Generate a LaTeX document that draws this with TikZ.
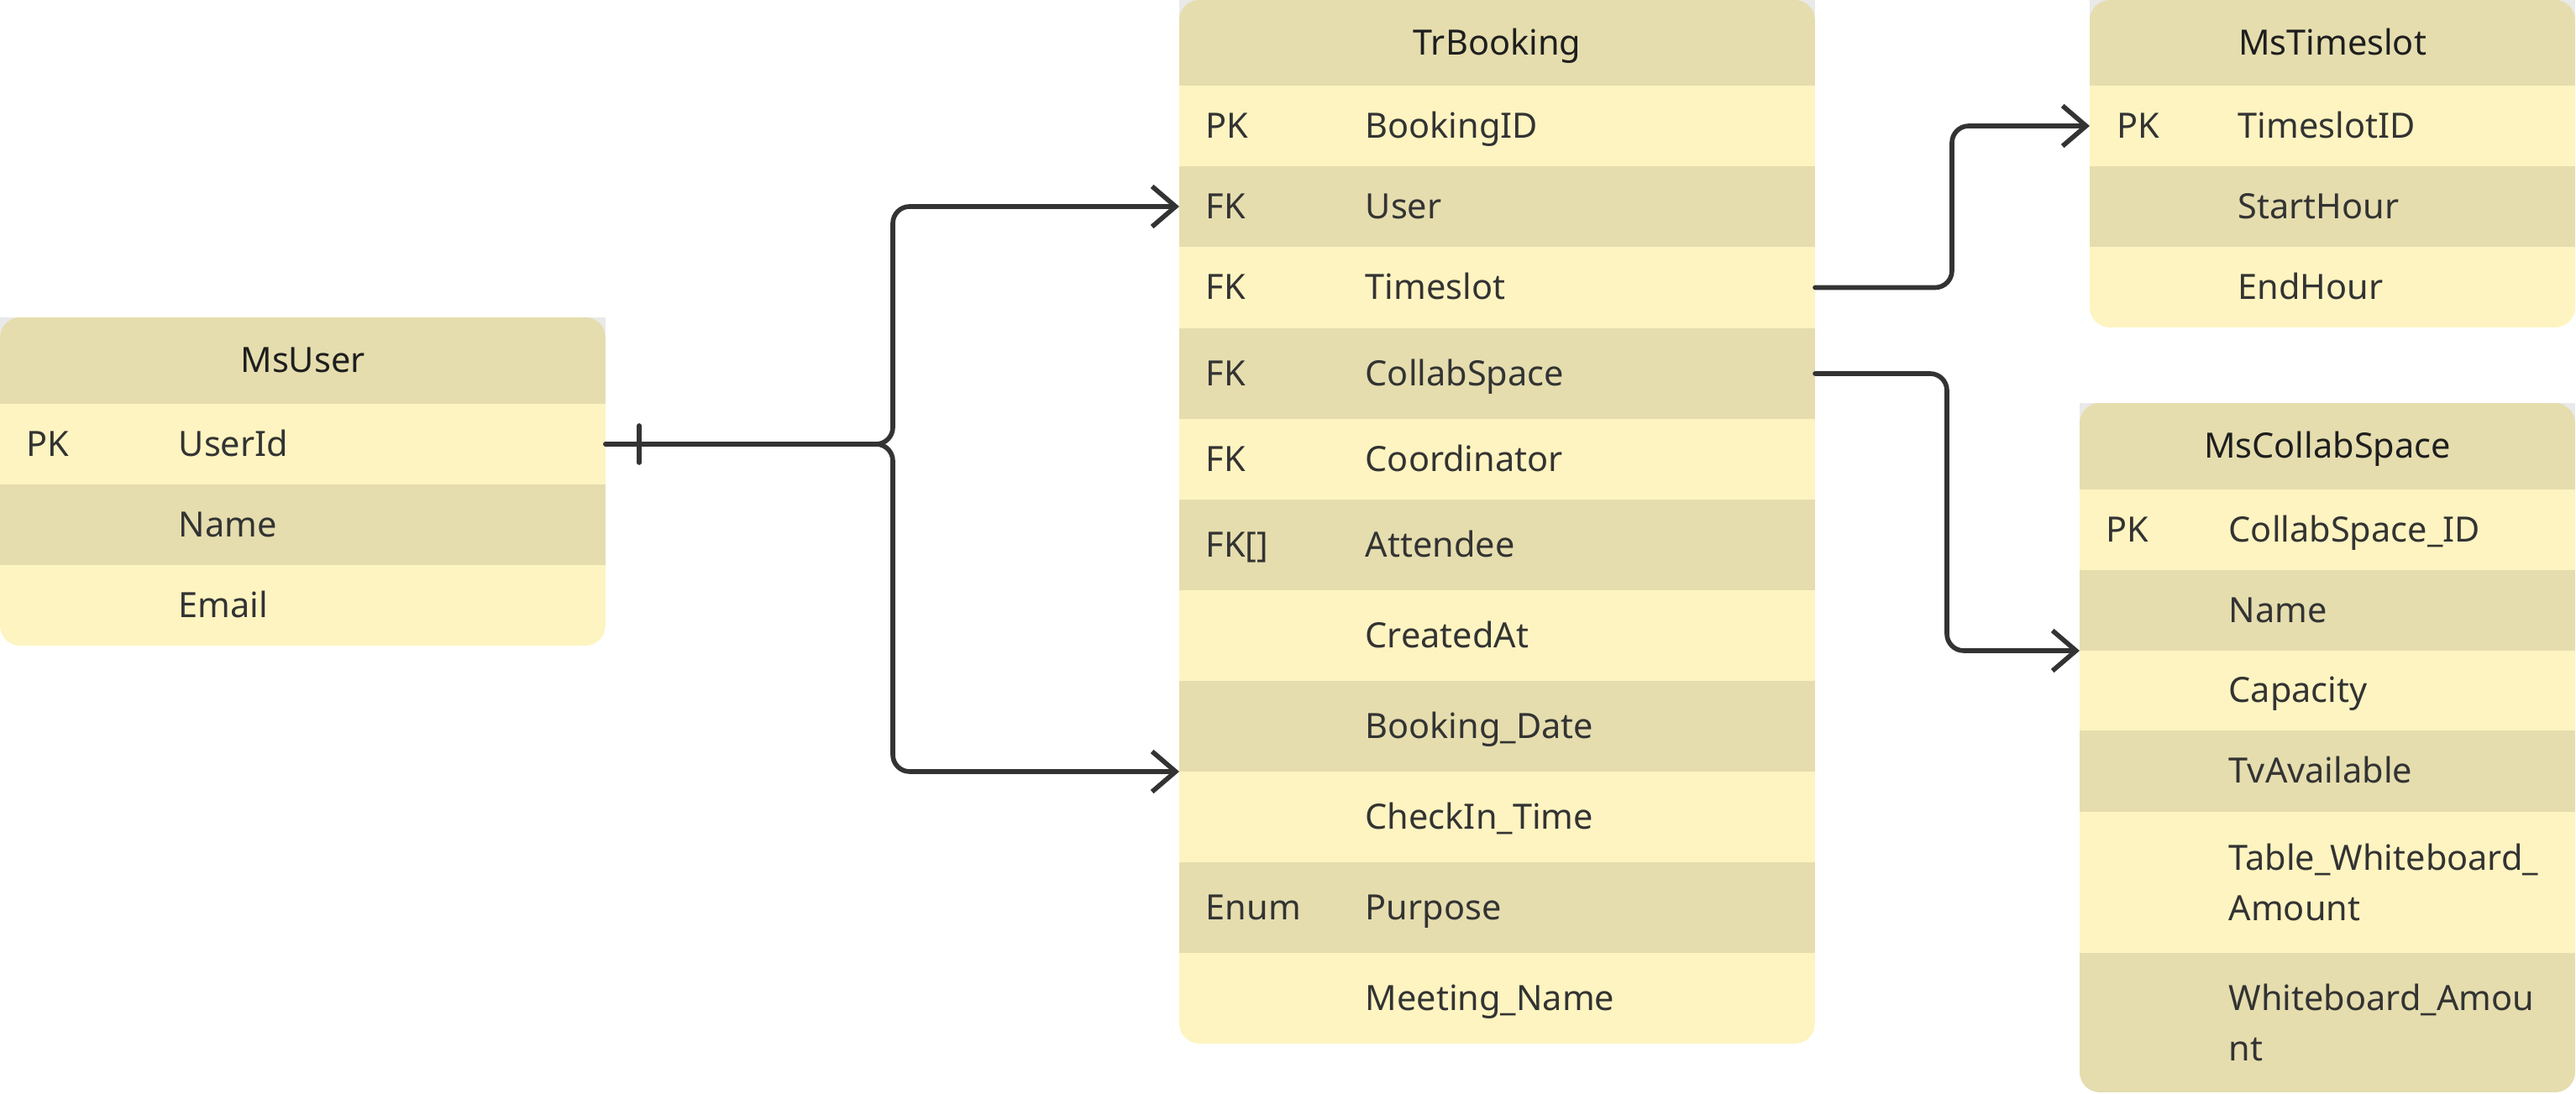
\documentclass[tikz,border=0pt]{standalone}
\usepackage{fontspec}
\setmainfont{Noto Sans}
\usetikzlibrary{arrows.meta,positioning}
\definecolor{ink}{HTML}{333333}
\definecolor{headink}{HTML}{1E1E1E}
\definecolor{straw}{HTML}{E5DDAE}
\definecolor{cream}{HTML}{FEF4C1}
\definecolor{haze}{HTML}{E9E9E9}

\begin{document}
\begin{tikzpicture}[font=\fontsize{11.8}{17}\selectfont,
  cellrow/.style={anchor=north west,inner sep=0,outer sep=0,minimum height=0.96cm},
  darkcell/.style={cellrow,fill=straw},
  lightcell/.style={cellrow,fill=cream},
  celltxt/.style={inner sep=0,text=ink,text height=0.29cm,text depth=0pt},
  headtxt/.style={inner sep=0,text=headink,text height=0.29cm,text depth=0pt},
  wraptxt/.style={inner sep=0,text=ink,align=left},
  rel/.style={draw=ink,line width=1.6pt,line cap=round,rounded corners=0.2cm},
  >={Straight Barb[length=0.28cm,width=0.48cm]}]
\useasboundingbox (0,0) rectangle (30.67,-13.03);

% MsUser
\fill[haze] (0,-3.78) rectangle (7.21,-4.81);
\begin{scope}[cellrow/.append style={minimum width=7.21cm}]
\clip[rounded corners=0.24cm] (0,-3.78) rectangle (7.21,-7.69);
\node[darkcell,minimum height=1.03cm] (u0) at (0,-3.78) {};
\node[lightcell,below=0pt of u0] (u1) {};
\node[darkcell,below=0pt of u1] (u2) {};
\node[lightcell,below=0pt of u2] (u3) {};
\end{scope}
\node[headtxt] (u0t) at (u0) {MsUser};
\node[celltxt,right=0.31cm of u1.west] (u1k) {PK};
\node[celltxt,right=2.12cm of u1.west] (u1n) {UserId};
\node[celltxt,right=2.12cm of u2.west] (u2n) {Name};
\node[celltxt,right=2.12cm of u3.west] (u3n) {Email};

% TrBooking
\fill[haze] (14.04,0) rectangle (21.61,-1.02);
\begin{scope}[cellrow/.append style={minimum width=7.57cm}]
\clip[rounded corners=0.24cm] (14.04,0) rectangle (21.61,-12.43);
\node[darkcell,minimum height=1.02cm] (b0) at (14.04,0) {};
\node[lightcell,below=0pt of b0] (b1) {};
\node[darkcell,below=0pt of b1] (b2) {};
\node[lightcell,minimum height=0.97cm,below=0pt of b2] (b3) {};
\node[darkcell,minimum height=1.08cm,below=0pt of b3] (b4) {};
\node[lightcell,below=0pt of b4] (b5) {};
\node[darkcell,minimum height=1.08cm,below=0pt of b5] (b6) {};
\node[lightcell,minimum height=1.08cm,below=0pt of b6] (b7) {};
\node[darkcell,minimum height=1.08cm,below=0pt of b7] (b8) {};
\node[lightcell,minimum height=1.08cm,below=0pt of b8] (b9) {};
\node[darkcell,minimum height=1.08cm,below=0pt of b9] (b10) {};
\node[lightcell,minimum height=1.08cm,below=0pt of b10] (b11) {};
\end{scope}
\node[headtxt] (b0t) at (b0) {TrBooking};
\node[celltxt,right=0.31cm of b1.west] (b1k) {PK};
\node[celltxt,right=2.21cm of b1.west] (b1n) {BookingID};
\node[celltxt,right=0.31cm of b2.west] (b2k) {FK};
\node[celltxt,right=2.21cm of b2.west] (b2n) {User};
\node[celltxt,right=0.31cm of b3.west] (b3k) {FK};
\node[celltxt,right=2.21cm of b3.west] (b3n) {Timeslot};
\node[celltxt,right=0.31cm of b4.west] (b4k) {FK};
\node[celltxt,right=2.21cm of b4.west] (b4n) {CollabSpace};
\node[celltxt,right=0.31cm of b5.west] (b5k) {FK};
\node[celltxt,right=2.21cm of b5.west] (b5n) {Coordinator};
\node[celltxt,right=0.31cm of b6.west] (b6k) {FK[]};
\node[celltxt,right=2.21cm of b6.west] (b6n) {Attendee};
\node[celltxt,right=2.21cm of b7.west] (b7n) {CreatedAt};
\node[celltxt,right=2.21cm of b8.west] (b8n) {Booking\_Date};
\node[celltxt,right=2.21cm of b9.west] (b9n) {CheckIn\_Time};
\node[celltxt,right=0.31cm of b10.west] (b10k) {Enum};
\node[celltxt,right=2.21cm of b10.west] (b10n) {Purpose};
\node[celltxt,right=2.21cm of b11.west] (b11n) {Meeting\_Name};

% MsTimeslot
\fill[haze] (24.88,0) rectangle (30.66,-1.02);
\begin{scope}[cellrow/.append style={minimum width=5.78cm}]
\clip[rounded corners=0.24cm] (24.88,0) rectangle (30.66,-3.90);
\node[darkcell,minimum height=1.02cm] (t0) at (24.88,0) {};
\node[lightcell,below=0pt of t0] (t1) {};
\node[darkcell,below=0pt of t1] (t2) {};
\node[lightcell,below=0pt of t2] (t3) {};
\end{scope}
\node[headtxt] (t0t) at (t0) {MsTimeslot};
\node[celltxt,right=0.32cm of t1.west] (t1k) {PK};
\node[celltxt,right=1.76cm of t1.west] (t1n) {TimeslotID};
\node[celltxt,right=1.76cm of t2.west] (t2n) {StartHour};
\node[celltxt,right=1.76cm of t3.west] (t3n) {EndHour};

% MsCollabSpace
\fill[haze] (24.76,-4.80) rectangle (30.66,-5.83);
\begin{scope}[cellrow/.append style={minimum width=5.90cm}]
\clip[rounded corners=0.24cm] (24.76,-4.80) rectangle (30.66,-13.01);
\node[darkcell,minimum height=1.03cm] (c0) at (24.76,-4.80) {};
\node[lightcell,below=0pt of c0] (c1) {};
\node[darkcell,below=0pt of c1] (c2) {};
\node[lightcell,minimum height=0.95cm,below=0pt of c2] (c3) {};
\node[darkcell,minimum height=0.97cm,below=0pt of c3] (c4) {};
\node[lightcell,minimum height=1.68cm,below=0pt of c4] (c5) {};
\node[darkcell,minimum height=1.66cm,below=0pt of c5] (c6) {};
\end{scope}
\node[headtxt] (c0t) at (c0) {MsCollabSpace};
\node[celltxt,right=0.31cm of c1.west] (c1k) {PK};
\node[celltxt,right=1.77cm of c1.west] (c1n) {CollabSpace\_ID};
\node[celltxt,right=1.77cm of c2.west] (c2n) {Name};
\node[celltxt,right=1.77cm of c3.west] (c3n) {Capacity};
\node[celltxt,right=1.77cm of c4.west] (c4n) {TvAvailable};
\node[wraptxt,right=1.77cm of c5.west] (c5n) {Table\_Whiteboard\_\\Amount};
\node[wraptxt,right=1.77cm of c6.west] (c6n) {Whiteboard\_Amou\\nt};

% relations
\coordinate (split) at (10.63,-5.29);
\draw[rel,->] (u1.east) -- (split) |- (b2.west);
\draw[rel,->] (u1.east) -- (split) |- (b8.south west);
\draw[rel] ([xshift=0.4cm]u1.east) ++(0,0.22) -- ++(0,-0.44);
\draw[rel,->] (b3.east) -- ++(1.63,0) |- (t1.west);
\draw[rel,->] (b4.east) -- ++(1.57,0) |- (c2.south west);
\end{tikzpicture}
\end{document}
